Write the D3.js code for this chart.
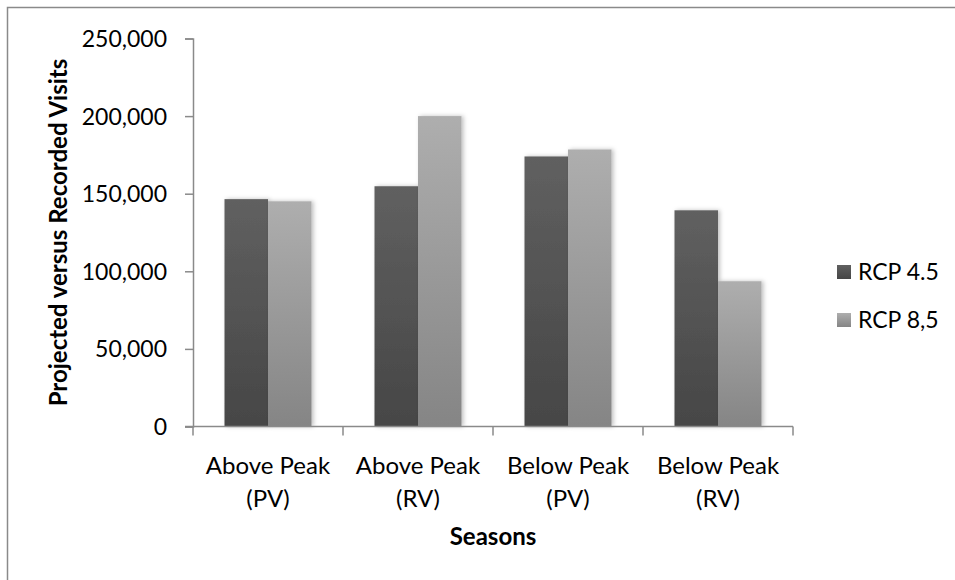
<!DOCTYPE html>
<html>
<head>
    <meta charset="utf-8">
    <script src="https://d3js.org/d3.v7.min.js"></script>
    <style>
        body { margin: 0; background: #fff; }
        text { font-family: Lato, "Open Sans", sans-serif; fill: #000; }
    </style>
</head>
<body>
    <div id="myPlot"></div>
    <script>
        // data
        var seasons = ["Above Peak|(PV)", "Above Peak|(RV)", "Below Peak|(PV)", "Below Peak|(RV)"];
        var seriesNames = ["RCP 4.5", "RCP 8,5"];
        var rcp45 = [146500, 154800, 174000, 139300];
        var rcp85 = [145100, 200000, 178500, 93600];
        var yTicks = [0, 50000, 100000, 150000, 200000, 250000];

        var width = 955, height = 580;
        var plotLeft = 193, plotRight = 793, plotTop = 38.5, plotBottom = 426.5;

        var svg = d3.select("#myPlot").append("svg")
            .attr("width", width)
            .attr("height", height);

        var defs = svg.append("defs");
        var grads = [["g0", "#606060", "#464646"], ["g1", "#aeaeae", "#858585"]];
        grads.forEach(function (g) {
            var lg = defs.append("linearGradient").attr("id", g[0])
                .attr("x1", 0).attr("y1", 0).attr("x2", 0).attr("y2", 1);
            lg.append("stop").attr("offset", "0%").attr("stop-color", g[1]);
            lg.append("stop").attr("offset", "100%").attr("stop-color", g[2]);
        });
        defs.append("filter").attr("id", "shadow")
            .attr("x", "-20%").attr("y", "-5%").attr("width", "150%").attr("height", "110%")
            .append("feDropShadow")
            .attr("dx", 2).attr("dy", 0).attr("stdDeviation", 2)
            .attr("flood-color", "#000").attr("flood-opacity", 0.25);

        // outer border
        svg.append("rect")
            .attr("x", 7.5).attr("y", 7.5)
            .attr("width", 960).attr("height", 600)
            .attr("fill", "none").attr("stroke", "#8a8a8a").attr("stroke-width", 1.5);

        var x0 = d3.scaleBand().domain(seasons).range([plotLeft, plotRight]).paddingInner(0.42).paddingOuter(0.21);
        var x1 = d3.scaleBand().domain([0, 1]).range([0, x0.bandwidth()]);
        var y = d3.scaleLinear().domain([0, 250000]).range([plotBottom, plotTop]);

        var rows = seasons.map(function (s, i) { return { s: s, v: [rcp45[i], rcp85[i]] }; });

        var groups = svg.selectAll("g.grp")
            .data(rows)
            .enter()
            .append("g")
            .attr("class", "grp")
            .attr("transform", function (d) { return "translate(" + x0(d.s) + ",0)"; });

        groups.selectAll("rect")
            .data(function (d) { return d.v.map(function (v, k) { return { k: k, v: v }; }); })
            .enter()
            .append("rect")
            .attr("x", function (d) { return x1(d.k); })
            .attr("y", function (d) { return y(d.v); })
            .attr("width", x1.bandwidth())
            .attr("height", function (d) { return plotBottom - y(d.v); })
            .attr("fill", function (d) { return "url(#g" + d.k + ")"; })
            .attr("filter", "url(#shadow)");

        // y axis
        var yAxis = svg.append("g")
            .attr("transform", "translate(" + plotLeft + ",0)")
            .call(d3.axisLeft(y).tickValues(yTicks).tickSize(8).tickPadding(18).tickFormat(d3.format(",")));
        yAxis.select(".domain").attr("stroke", "#8a8a8a").attr("stroke-width", 1.5);
        yAxis.selectAll(".tick line").attr("stroke", "#8a8a8a").attr("stroke-width", 1.5);
        yAxis.selectAll(".tick text").style("font-size", "23px").attr("dy", "0.35em");

        // x axis
        var xAxis = svg.append("g")
            .attr("transform", "translate(0," + plotBottom + ")");
        xAxis.append("line")
            .attr("x1", plotLeft - 8).attr("x2", plotRight)
            .attr("stroke", "#8a8a8a").attr("stroke-width", 1.5);
        var xTickPos = [plotLeft].concat(seasons.map(function (s) { return x0(s) + x0.bandwidth() + x0.step() * x0.paddingInner() / 2; }));
        xTickPos[xTickPos.length - 1] = plotRight;
        xAxis.selectAll("line.tk")
            .data(xTickPos)
            .enter()
            .append("line")
            .attr("class", "tk")
            .attr("x1", function (d) { return d; }).attr("x2", function (d) { return d; })
            .attr("y1", 0).attr("y2", 9)
            .attr("stroke", "#8a8a8a").attr("stroke-width", 1.5);

        var lbl = xAxis.selectAll("text.cat")
            .data(seasons)
            .enter()
            .append("text")
            .attr("class", "cat")
            .attr("text-anchor", "middle")
            .style("font-size", "24px");
        lbl.append("tspan").attr("x", function (d) { return x0(d) + x0.bandwidth() / 2; })
            .attr("y", 47).text(function (d) { return d.split("|")[0]; });
        lbl.append("tspan").attr("x", function (d) { return x0(d) + x0.bandwidth() / 2; })
            .attr("y", 80).text(function (d) { return d.split("|")[1]; });

        // axis titles
        svg.append("text")
            .attr("x", (plotLeft + plotRight) / 2).attr("y", 545)
            .attr("text-anchor", "middle")
            .style("font-size", "24px").style("font-weight", "bold")
            .text("Seasons");
        svg.append("text")
            .attr("transform", "translate(67," + (plotTop + plotBottom) / 2 + ") rotate(-90)")
            .attr("text-anchor", "middle")
            .style("font-size", "24px").style("font-weight", "bold")
            .text("Projected versus Recorded Visits");

        // legend
        var legend = svg.selectAll("g.leg")
            .data(seriesNames)
            .enter()
            .append("g")
            .attr("class", "leg")
            .attr("transform", function (d, i) { return "translate(837," + (272 + i * 48) + ")"; });
        legend.append("rect")
            .attr("x", 0).attr("y", -7)
            .attr("width", 14).attr("height", 14)
            .attr("fill", function (d, i) { return "url(#g" + i + ")"; });
        legend.append("text")
            .attr("x", 21).attr("dy", "0.35em")
            .style("font-size", "23px")
            .text(function (d) { return d; });
    </script>
</body>
</html>
